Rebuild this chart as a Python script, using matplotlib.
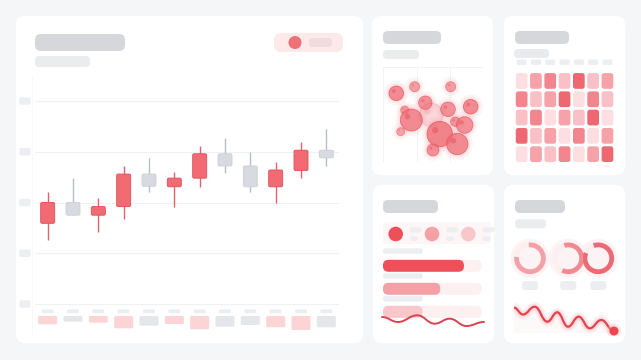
import matplotlib
matplotlib.use("Agg")
import matplotlib.pyplot as plt
from matplotlib.patches import FancyBboxPatch, Circle, PathPatch
from matplotlib.path import Path
from matplotlib.colors import LinearSegmentedColormap, Normalize

W, H = 641, 360

# ---------------- data ----------------
# candlestick (main panel)
candle_open = [115.9, 120.0, 117.5, 119.2, 125.6, 123.1, 124.8, 129.6, 127.2, 123.1, 126.3, 130.3]
candle_close = [120.0, 117.5, 119.2, 125.6, 123.2, 124.8, 129.6, 127.2, 123.1, 126.4, 130.3, 128.8]
candle_high = [122.0, 124.8, 120.8, 127.2, 128.8, 126.0, 131.2, 132.8, 129.9, 127.9, 132.0, 134.4]
candle_low = [112.7, 117.5, 114.2, 116.7, 122.0, 119.1, 123.1, 125.9, 122.0, 120.0, 124.8, 127.2]
volumes = [8.3, 5.7, 6.7, 12.3, 9.7, 8.0, 13.3, 10.7, 9.0, 11.3, 14.0, 11.3]
price_ticks = [100, 110, 120, 130, 140]

# bubble chart
bubble_x = [13.3, 31.7, 67.7, 42.3, 65.0, 87.7, 21.7, 28.3, 48.3, 72.3, 81.7, 56.7, 74.3, 17.7, 50.0]
bubble_y = [68.7, 75.3, 75.3, 59.3, 52.7, 55.3, 52.0, 42.0, 47.0, 40.3, 37.0, 28.0, 18.0, 30.3, 12.0]
bubble_r = [7.3, 5.0, 5.0, 6.7, 7.3, 7.3, 4.0, 11.0, 11.7, 4.7, 8.3, 12.7, 10.7, 4.0, 6.0]
bubble_alpha = [0.75, 0.6, 0.6, 0.7, 0.7, 0.75, 0.6, 0.75, 0.22, 0.65, 0.7, 0.8, 0.75, 0.55, 0.7]

# heatmap (5 rows x 7 columns, level 1..5)
heat_values = [
    [1, 3, 4, 2, 5, 2, 3],
    [4, 2, 3, 5, 1, 4, 2],
    [2, 4, 1, 3, 2, 5, 1],
    [5, 2, 3, 1, 4, 1, 3],
    [1, 3, 2, 4, 1, 3, 5],
]

# progress bars
progress_values = [82, 58, 40]
progress_colors = ["#ee4f59", "#f5a0a6", "#f9c6c9"]

# donut rings
donut_fractions = [0.78, 0.62, 0.87]
donut_start = [95, 107, 110]
donut_colors = ["#f3a0a6", "#f08a92", "#ec6a73"]

# sparkline waves
wave1_x = [2, 18, 37.3, 54.7, 69.7, 86.3, 104]
wave1_y = [13, 8, 14.7, 6.3, 11.3, 4, 8]
wave2_x = [6, 15, 26.7, 39.3, 49.3, 60, 70.7, 81.7, 93.3, 106]
wave2_y = [28.3, 21.5, 29.3, 14.3, 23.7, 9.3, 19.3, 7.7, 16, 5]

# ---------------- styles ----------------
BG = "#f5f6f8"
TITLE = "#d5d7db"
SUB = "#ebecee"
LABEL = "#eceef1"
RED = "#f26b73"
RED_EDGE = "#de5762"
GRAY = "#d7dae0"

fig = plt.figure(figsize=(W / 100, H / 100), dpi=100)
fig.patch.set_facecolor(BG)

base = fig.add_axes([0, 0, 1, 1])
base.set_xlim(0, W)
base.set_ylim(H, 0)
base.axis("off")


def px_axes(x0, y0, x1, y1):
    ax = fig.add_axes([x0 / W, 1 - y1 / H, (x1 - x0) / W, (y1 - y0) / H])
    ax.set_facecolor("none")
    ax.axis("off")
    return ax


def rrect(ax, x, y, w, h, r_px, **kw):
    t = ax.transData
    p0 = t.transform((0, 0))
    ppx = abs(t.transform((1, 0))[0] - p0[0])
    ppy = abs(t.transform((0, 1))[1] - p0[1])
    r_px = min(r_px, abs(w) * ppx / 2, abs(h) * ppy / 2)
    patch = FancyBboxPatch((x, y), w, h,
                           boxstyle=f"round,pad=0,rounding_size={r_px / ppx}",
                           mutation_aspect=ppx / ppy, linewidth=kw.pop("lw", 0), **kw)
    ax.add_patch(patch)
    return patch


def to_base(ax, x, y):
    d = ax.transData.transform((x, y))
    return d[0], H - d[1]


def wave_path(xs, ys, close_to=None):
    verts = [(xs[0], ys[0])]
    codes = [Path.MOVETO]
    for i in range(1, len(xs)):
        dx = xs[i] - xs[i - 1]
        verts += [(xs[i - 1] + dx * 0.42, ys[i - 1]), (xs[i] - dx * 0.42, ys[i]), (xs[i], ys[i])]
        codes += [Path.CURVE4] * 3
    if close_to is not None:
        verts += [(xs[-1], close_to), (xs[0], close_to), (xs[0], ys[0])]
        codes += [Path.LINETO, Path.LINETO, Path.CLOSEPOLY]
    return Path(verts, codes)


# ---------------- panels ----------------
for (x0, y0, x1, y1) in [(16, 16, 363, 343), (372, 16, 493, 175), (504, 16, 625, 175),
                         (373, 185, 494, 343), (504, 185, 625, 343)]:
    rrect(base, x0, y0, x1 - x0, y1 - y0, 9, fc="white")

# ---------------- main candlestick panel ----------------
rrect(base, 35, 34, 90, 17, 6, fc=TITLE)
rrect(base, 35, 56, 55, 11, 4, fc=SUB)
rrect(base, 274, 33, 69, 19, 7, fc="#fde9ea")
base.add_patch(Circle((295, 42.5), 6.5, fc="#f07078", lw=0))
rrect(base, 309, 38, 23, 9, 3, fc="#efdcde")
base.plot([31.5, 31.5], [75, 335], color="#f7f7f9", lw=0.6)

cax = px_axes(35, 95, 339, 310)
cax.set_xlim(-0.5, 11.5)
cax.set_ylim(98.82, 141.18)
for t in price_ticks:
    cax.axhline(t, color="#f0f1f3", lw=0.8, zorder=0)
    _, py = to_base(cax, 0, t)
    rrect(base, 19.3, py - 3.7, 11.4, 7.4, 2, fc=LABEL)

for i in range(len(candle_open)):
    o, c, hi, lo = candle_open[i], candle_close[i], candle_high[i], candle_low[i]
    up = c >= o
    cax.vlines(i, lo, hi, color="#e0646e" if up else "#b9bdc5", lw=1.0, zorder=2)
    rrect(cax, i - 0.275, min(o, c), 0.55, abs(c - o), 1.5,
          fc=RED if up else GRAY, ec=RED_EDGE if up else "#cfd2d8", lw=0.7, zorder=3)

vax = px_axes(35, 316, 339, 334)
vax.set_xlim(-0.5, 11.5)
vax.set_ylim(18, 0)
for i, v in enumerate(volumes):
    up = candle_close[i] >= candle_open[i]
    rrect(vax, i - 0.375, 0, 0.75, v, 1.5, fc="#fcd4d6" if up else "#e4e6e9")
    cx, _ = to_base(cax, i, 100)
    rrect(base, cx - 6, 309.3, 12, 4, 1.5, fc="#eceef1")

# ---------------- bubble panel ----------------
rrect(base, 383, 31, 58, 13, 5, fc=TITLE)
rrect(base, 383, 50, 36, 9, 4, fc=SUB)
bax = px_axes(383, 67, 483, 162)
bax.set_xlim(0, 100)
bax.set_ylim(0, 95)
for xv in [0, 34, 67, 100]:
    bax.plot([xv, xv], [0, 95], color="#f1f1f3", lw=0.6, zorder=0)
for yv in [0, 95]:
    bax.plot([0, 100], [yv, yv], color="#f1f1f3", lw=0.6, zorder=0)
for x, y, r, a in zip(bubble_x, bubble_y, bubble_r, bubble_alpha):
    bax.add_patch(Circle((x, y), r + 5, fc="#f7b3b8", alpha=a * 0.18, lw=0, zorder=1))
    bax.add_patch(Circle((x, y), r + 2.5, fc="#f5a3a9", alpha=a * 0.22, lw=0, zorder=1))
for x, y, r, a in zip(bubble_x, bubble_y, bubble_r, bubble_alpha):
    bax.add_patch(Circle((x, y), r, fc="#ef6c75", ec="#e6525c", lw=0.6, alpha=a, zorder=2))
    bax.add_patch(Circle((x - 0.35 * r, y + 0.3 * r), 0.25 * r, fc="#e54b56", lw=0,
                         alpha=a * 0.6, zorder=3))

# ---------------- heatmap panel ----------------
rrect(base, 515, 31, 54, 13, 5, fc=TITLE)
rrect(base, 514, 49, 35, 9, 4, fc="#e9eaed")
hax = px_axes(514.5, 71.8, 614.6, 163.3)
hax.set_xlim(0, 7)
hax.set_ylim(5, 0)
cmap = LinearSegmentedColormap.from_list("pinks", ["#fddfe2", "#ee6871"])
norm = Normalize(1, 5)
for i, row in enumerate(heat_values):
    for j, v in enumerate(row):
        rrect(hax, j + 0.09, i + 0.07, 0.82, 0.86, 2.5, fc=cmap(norm(v)))
for j in range(7):
    cx, _ = to_base(hax, j + 0.5, 0)
    rrect(base, cx - 5, 59.5, 10, 5.5, 1.5, fc=LABEL)

# ---------------- progress panel ----------------
rrect(base, 383, 200, 55, 13, 5, fc=TITLE)
rrect(base, 383, 222, 108, 22, 4, fc="#fdf5f6")
for k, col in enumerate(progress_colors):
    cx = 395.7 + 36.3 * k
    base.add_patch(Circle((cx, 234), 7.3, fc=col, lw=0))
    rrect(base, cx + 14.3, 227.3, 11.7, 5, 2, fc=LABEL)
    rrect(base, cx + 14.3, 236.5, 7.7, 4.5, 2, fc=LABEL)
for ly in [248.3, 273.3, 296.0]:
    rrect(base, 383, ly, 39.7, 5.5, 2, fc=LABEL)

pax = px_axes(383, 254.3, 481.7, 323.3)
pax.set_xlim(0, 100)
pax.set_ylim(2.5, -0.5)
for i, (v, col) in enumerate(zip(progress_values, progress_colors)):
    rrect(pax, 0, i - 0.26, 100, 0.52, 5.5, fc="#fdf0f1")
    rrect(pax, 0, i - 0.26, v, 0.52, 5.5, fc=col)

wax = px_axes(380, 310, 486, 330)
wax.set_xlim(0, 106)
wax.set_ylim(0, 20)
wax.add_patch(PathPatch(wave_path(wave1_x, wave1_y), fill=False, ec="#d8434f", lw=1.4,
                        capstyle="round", zorder=3))

# ---------------- donut panel ----------------
rrect(base, 515, 200, 50, 13, 5, fc=TITLE)
rrect(base, 515, 219.3, 31, 9, 4, fc=SUB)
dax = px_axes(505, 236, 625, 281)
centers = [25, 63.3, 93.3]
for cx in centers:
    dax.add_patch(Circle((cx, 22.7), 19.5, fc="#fdf3f4", lw=0, zorder=0))
for cx, f, sa, col in zip(centers, donut_fractions, donut_start, donut_colors):
    dax.pie([1], colors=["#fdeef0"], radius=15.8, center=(cx, 22.7),
            wedgeprops=dict(width=4.8, lw=0))
    dax.pie([f, 1 - f], colors=[col, "none"], radius=15.8, center=(cx, 22.7),
            startangle=sa, counterclock=False, wedgeprops=dict(width=4.8, lw=0))
dax.set_xlim(0, 120)
dax.set_ylim(0, 45)
dax.set_aspect("auto")
dax.axis("off")
for cx in centers:
    rrect(base, 505 + cx - 8, 281, 16, 9, 3, fc=LABEL)

rax = px_axes(508, 298, 622, 336)
rax.set_xlim(0, 114)
rax.set_ylim(0, 38)
rax.add_patch(PathPatch(wave_path(wave2_x, wave2_y, close_to=3), fc="#fbe6e8", lw=0,
                        alpha=0.22, zorder=1))
p2 = wave_path(wave2_x, wave2_y)
for lw, a in [(7, 0.07), (4.5, 0.14)]:
    rax.add_patch(PathPatch(p2, fill=False, ec="#f0707a", lw=lw, alpha=a, zorder=2))
rax.add_patch(PathPatch(p2, fill=False, ec="#e5424e", lw=1.6, zorder=3))
rax.add_patch(Circle((wave2_x[-1], wave2_y[-1]), 7, fc="#f7b5ba", alpha=0.35, lw=0, zorder=3))
rax.add_patch(Circle((wave2_x[-1], wave2_y[-1]), 4.5, fc="#ec4651", lw=0, zorder=4))

fig.savefig("out.png", dpi=100, facecolor=fig.get_facecolor())
